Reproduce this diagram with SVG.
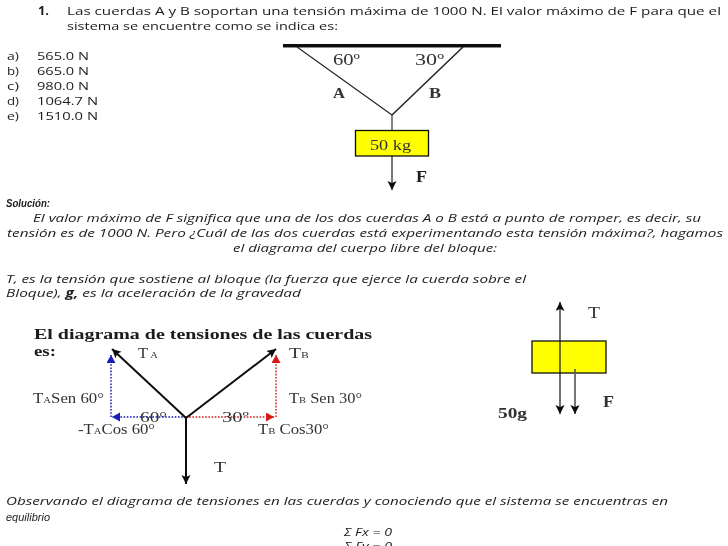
<svg xmlns="http://www.w3.org/2000/svg" width="728" height="546" viewBox="0 0 728 546">
<style>
text{fill:#1c1c1c}
.c{font-family:"Open Sans","Liberation Sans",sans-serif;font-size:11.500px}
.i{font-family:"Open Sans","Liberation Sans",sans-serif;font-size:11.500px;font-style:italic}
.s{font-family:"Liberation Serif",serif;font-size:14px;fill:#333}
.sb{font-family:"Liberation Serif",serif;font-size:16px;font-weight:bold}
.sub{font-size:9px}
.blk{fill:#ffff00;stroke:#111;stroke-width:1.3}
.r{fill:none;stroke:#222;stroke-width:1.1}
.a{fill:none;stroke:#111;stroke-width:2;marker-end:url(#h)}
.a1{fill:none;stroke:#111;stroke-width:1.2;marker-end:url(#h)}
.ag{fill:none;stroke:#555;stroke-width:1.6;marker-end:url(#h)}
.bl{fill:none;stroke:#1a1ab8;stroke-width:1.5;stroke-dasharray:1.6 1.6;marker-end:url(#hb)}
.rd{fill:none;stroke:#d81818;stroke-width:1.5;stroke-dasharray:1.6 1.6;marker-end:url(#hr)}
</style>
<defs>
<filter id="soft" x="0" y="0" width="100%" height="100%"><feGaussianBlur stdDeviation="0.35"/></filter>
<marker id="h" markerUnits="userSpaceOnUse" markerWidth="12" markerHeight="12" refX="9" refY="4.500" orient="auto"><path d="M0 0L9 4.500L0 9L2 4.500Z" fill="#111"/></marker>
<marker id="hb" markerUnits="userSpaceOnUse" markerWidth="12" markerHeight="12" refX="8" refY="4.500" orient="auto"><path d="M0 0L8 4.500L0 9Z" fill="#1a1ab8"/></marker>
<marker id="hr" markerUnits="userSpaceOnUse" markerWidth="12" markerHeight="12" refX="8" refY="4.500" orient="auto"><path d="M0 0L8 4.500L0 9Z" fill="#d81818"/></marker>
</defs>
<rect width="728" height="546" fill="#fff"/>
<g filter="url(#soft)">
<g id="enunciado">
<text class="c" x="38" y="15" font-weight="bold" textLength="11" lengthAdjust="spacingAndGlyphs">1.</text>
<text class="c" x="67" y="15" textLength="654" lengthAdjust="spacingAndGlyphs">Las cuerdas A y B soportan una tensión máxima de 1000 N.  El valor máximo de F para que el</text>
<text class="c" x="67" y="30" textLength="271" lengthAdjust="spacingAndGlyphs">sistema se encuentre como se indica es:</text>
<text class="c" x="7" y="60" textLength="12" lengthAdjust="spacingAndGlyphs">a)</text><text class="c" x="37" y="60" textLength="52" lengthAdjust="spacingAndGlyphs">565.0 N</text>
<text class="c" x="7" y="75" textLength="12" lengthAdjust="spacingAndGlyphs">b)</text><text class="c" x="37" y="75" textLength="52" lengthAdjust="spacingAndGlyphs">665.0 N</text>
<text class="c" x="7" y="90" textLength="12" lengthAdjust="spacingAndGlyphs">c)</text><text class="c" x="37" y="90" textLength="52" lengthAdjust="spacingAndGlyphs">980.0 N</text>
<text class="c" x="7" y="105" textLength="12" lengthAdjust="spacingAndGlyphs">d)</text><text class="c" x="37" y="105" textLength="61" lengthAdjust="spacingAndGlyphs">1064.7 N</text>
<text class="c" x="7" y="120" textLength="12" lengthAdjust="spacingAndGlyphs">e)</text><text class="c" x="37" y="120" textLength="61" lengthAdjust="spacingAndGlyphs">1510.0 N</text>
</g>
<g id="sistema">
<rect x="283" y="44" width="218" height="3.500" fill="#111"/>
<g id="cuerdas" class="connectors">
<path class="r" d="M297 47L392 115"/>
<path class="r" style="stroke-width:1.500" d="M463 47L392 115"/>
<path class="r" d="M392 115V130"/>
<path class="ag" d="M392 156V190"/>
</g>
<g id="bloque-50kg">
<rect class="blk" x="355.500" y="130.500" width="73" height="25.500"/>
<text class="s" x="370" y="150" textLength="41" lengthAdjust="spacingAndGlyphs" style="font-size:15px">50 kg</text>
</g>
<text class="s" x="333" y="65" textLength="27" lengthAdjust="spacingAndGlyphs" style="font-size:16px">60º</text>
<text class="s" x="415" y="65" textLength="29" lengthAdjust="spacingAndGlyphs" style="font-size:16px">30º</text>
<text class="s" x="333" y="98" textLength="12" lengthAdjust="spacingAndGlyphs" style="font-size:15px;font-weight:bold">A</text>
<text class="s" x="429" y="98" textLength="12" lengthAdjust="spacingAndGlyphs" style="font-size:15px;font-weight:bold">B</text>
<text class="sb" x="416" y="182" textLength="11" lengthAdjust="spacingAndGlyphs">F</text>
</g>
<g id="solucion">
<text x="6" y="207" font-family="Liberation Sans, sans-serif" font-size="11" font-style="italic" font-weight="bold" textLength="44" lengthAdjust="spacingAndGlyphs">Solución:</text>
<text class="i" x="33" y="222" textLength="668" lengthAdjust="spacingAndGlyphs">El valor máximo de F significa que una de los dos cuerdas A o B está a punto de romper, es decir, su</text>
<text class="i" x="7" y="237" textLength="716" lengthAdjust="spacingAndGlyphs">tensión es de 1000 N. Pero ¿Cuál de las dos cuerdas está experimentando esta tensión máxima?, hagamos</text>
<text class="i" x="233" y="252" textLength="264" lengthAdjust="spacingAndGlyphs">el diagrama del cuerpo libre del bloque:</text>
<text class="i" x="6" y="283" textLength="520" lengthAdjust="spacingAndGlyphs">T, es la tensión que sostiene al bloque (la fuerza que ejerce la cuerda sobre el</text>
<text class="i" x="6" y="297" textLength="295" lengthAdjust="spacingAndGlyphs">Bloque), <tspan font-weight="bold">g,</tspan> es la aceleración de la gravedad</text>
</g>
<g id="diagrama-tensiones">
<text class="sb" x="34" y="339" textLength="338" lengthAdjust="spacingAndGlyphs" style="font-size:15.500px">El diagrama de tensiones de las cuerdas</text>
<text class="sb" x="34" y="356" textLength="22" lengthAdjust="spacingAndGlyphs" style="font-size:15.500px">es:</text>
<g id="vectores" class="connectors">
<path class="bl" d="M111 417V355"/>
<path class="bl" d="M186 417H112"/>
<path class="rd" d="M276 417V355"/>
<path class="rd" d="M186 417H274"/>
<path class="a" d="M186 418L112 349"/>
<path class="a" d="M186 418L276 349"/>
<path class="a" d="M186 418V484"/>
</g>
<text class="s" x="138" y="358" textLength="20" lengthAdjust="spacingAndGlyphs">T<tspan class="sub" dx="2">A</tspan></text>
<text class="s" x="289" y="358" textLength="20" lengthAdjust="spacingAndGlyphs" style="font-size:15px">T<tspan class="sub">B</tspan></text>
<text class="s" x="33" y="403" textLength="71" lengthAdjust="spacingAndGlyphs">T<tspan class="sub">A</tspan>Sen 60°</text>
<text class="s" x="289" y="403" textLength="73" lengthAdjust="spacingAndGlyphs">T<tspan class="sub">B</tspan> Sen 30°</text>
<text class="s" x="140" y="422" textLength="27" lengthAdjust="spacingAndGlyphs" style="font-size:15px">60°</text>
<text class="s" x="222" y="422" textLength="27" lengthAdjust="spacingAndGlyphs" style="font-size:15px">30º</text>
<text class="s" x="78" y="434" textLength="77" lengthAdjust="spacingAndGlyphs">-T<tspan class="sub">A</tspan>Cos 60°</text>
<text class="s" x="258" y="434" textLength="71" lengthAdjust="spacingAndGlyphs">T<tspan class="sub">B</tspan> Cos30°</text>
<text class="s" x="214" y="472" textLength="12" lengthAdjust="spacingAndGlyphs" style="font-size:15px">T</text>
</g>
<g id="cuerpo-libre">
<rect class="blk" x="532" y="341" width="74" height="32"/>
<g id="fuerzas" class="connectors">
<path class="a1" d="M560 358V302"/>
<path class="a1" d="M560 358V414"/>
<path class="ag" d="M575 369V414"/>
</g>
<text class="s" x="588" y="318" textLength="12" lengthAdjust="spacingAndGlyphs" style="font-size:16px">T</text>
<text class="s" x="603" y="407" textLength="11" lengthAdjust="spacingAndGlyphs" style="font-size:16px;font-weight:bold">F</text>
<text class="s" x="498" y="418" textLength="29" lengthAdjust="spacingAndGlyphs" style="font-size:15px;font-weight:bold">50g</text>
</g>
<g id="observacion">
<text class="i" x="6" y="505" textLength="662" lengthAdjust="spacingAndGlyphs">Observando el diagrama de tensiones en las cuerdas y conociendo que el sistema se encuentras en</text>
<text x="6" y="521" font-family="Liberation Sans, sans-serif" font-size="11.500" font-style="italic" textLength="44" lengthAdjust="spacingAndGlyphs">equilibrio</text>
<text class="i" x="344" y="536" textLength="48" lengthAdjust="spacingAndGlyphs">Σ Fx = 0</text>
<text class="i" x="344" y="550" textLength="48" lengthAdjust="spacingAndGlyphs">Σ Fy = 0</text>
</g>
</g>
</svg>
